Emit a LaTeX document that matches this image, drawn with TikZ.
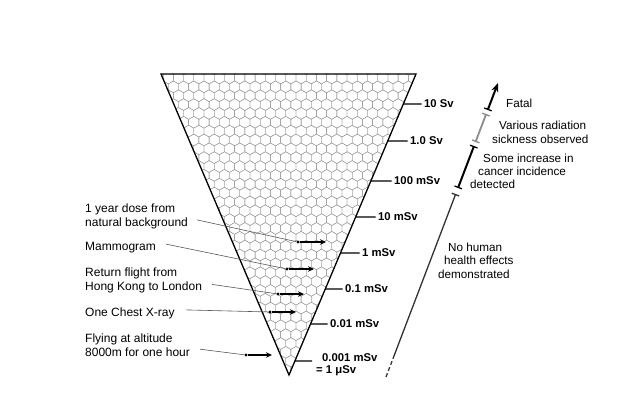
\documentclass[tikz,border=0pt]{standalone}
\usepackage{fontspec}
\setmainfont{Liberation Sans}
\usetikzlibrary{arrows.meta,calc}
\begin{document}
\begin{tikzpicture}[x=1pt,y=-1pt,
  lbl/.style={font=\fontsize{12}{14}\selectfont, inner sep=0pt, anchor=base west},
  dose/.style={font=\fontsize{11.3}{13}\selectfont\bfseries, inner sep=0pt, anchor=west},
  dosebase/.style={font=\fontsize{11.3}{13}\selectfont\bfseries, inner sep=0pt, anchor=base west},
  eff/.style={font=\fontsize{11.7}{14}\selectfont, inner sep=0pt, anchor=base west},
  hexline/.style={draw=black!40, line width=0.35pt},
  tickline/.style={line width=1.2pt, shorten >=2.5pt},
  leader/.style={draw=black!65, line width=0.6pt},
  doseptr/.style={line width=1.4pt, -{Stealth[length=6pt,width=5.5pt]}},
  dot/.style={circle, fill=black, inner sep=0pt, minimum size=3.2pt},
  blackseg/.style={line width=2pt, black},
  grayseg/.style={line width=1.8pt, black!45},
  nohuman/.style={line width=1.3pt, black!80},
  bartip/.style={Bar[width=8pt,line width=1.3pt]},
]
\fill[white] (0,0) rectangle (627,402);
\useasboundingbox (0,0) rectangle (627,402);

% triangle
\coordinate (TL) at (161,74);
\coordinate (TR) at (416,74);
\coordinate (AP) at (289,375);
\fill[white] (TL) -- (TR) -- (AP) -- cycle;
\begin{scope}
  \clip (TL) -- (TR) -- (AP) -- cycle;
  \foreach \r in {0,...,35}{
    \foreach \c in {0,...,26}{
      \pgfmathsetmacro\hx{158+\c*10.22+mod(\r,2)*5.11}
      \pgfmathsetmacro\hy{78+\r*8.85}
      \path[hexline] (\hx,\hy) +(30:5.9) -- +(90:5.9) -- +(150:5.9) -- +(210:5.9) -- +(270:5.9) -- +(330:5.9) -- cycle;
    }
  }
\end{scope}
\draw[line width=1.3pt, line join=miter] (TL) -- (TR) -- (AP) -- cycle;

% dose ticks
\coordinate (e1) at ($(TR)!{(104-74)/301}!(AP)$);
\coordinate (e2) at ($(TR)!{(141-74)/301}!(AP)$);
\coordinate (e3) at ($(TR)!{(181-74)/301}!(AP)$);
\coordinate (e4) at ($(TR)!{(217-74)/301}!(AP)$);
\coordinate (e5) at ($(TR)!{(253-74)/301}!(AP)$);
\coordinate (e6) at ($(TR)!{(289-74)/301}!(AP)$);
\coordinate (e7) at ($(TR)!{(324-74)/301}!(AP)$);
\coordinate (e8) at ($(TR)!{(361-74)/301}!(AP)$);

\node[dose] (l1) at (424,104) {10 Sv};
\node[dose] (l2) at (410,141) {1.0 Sv};
\node[dose] (l3) at (394,181) {100 mSv};
\node[dose] (l4) at (378,217) {10 mSv};
\node[dose] (l5) at (362,253) {1 mSv};
\node[dose] (l6) at (345,289) {0.1 mSv};
\node[dose] (l7) at (330,324) {0.01 mSv};
\node[dosebase] (l8a) at (322,361) {0.001 mSv};
\node[dosebase] (l8b) at (316,373) {= 1 μSv};
\coordinate (k8) at (312,361);

\draw[tickline] (e1) -- (l1.west);
\draw[tickline] (e2) -- (l2.west);
\draw[tickline] (e3) -- (l3.west);
\draw[tickline] (e4) -- (l4.west);
\draw[tickline] (e5) -- (l5.west);
\draw[tickline] (e6) -- (l6.west);
\draw[tickline] (e7) -- (l7.west);
\draw[line width=1.2pt] (e8) -- (k8);

% left labels
\node[lbl] (bg1) at (85,212) {1 year dose from};
\node[lbl] (bg2) at (85,226) {natural background};
\node[lbl] (mm) at (85,250) {Mammogram};
\node[lbl] (hk1) at (85,276.5) {Return flight from};
\node[lbl] (hk2) at (85,290.5) {Hong Kong to London};
\node[lbl] (cx) at (85,316) {One Chest X-ray};
\node[lbl] (fl1) at (85,342.5) {Flying at altitude};
\node[lbl] (fl2) at (85,356.5) {8000m for one hour};

\node[dot] (d1) at (298,242) {};
\node[dot] (d2) at (287,269) {};
\node[dot] (d3) at (278,294) {};
\node[dot] (d4) at (270,312) {};
\node[dot] (d5) at (246,355) {};
\coordinate (a1) at (326,242);
\coordinate (a2) at (314,269);
\coordinate (a3) at (304,294);
\coordinate (a4) at (296,312);
\coordinate (a5) at (272,355);

\draw[leader] ($(bg2.east)+(9,-3)$) -- (d1);
\draw[leader] ($(mm.east)+(10,-3)$) -- (d2);
\draw[leader] ($(hk2.east)+(10,-3)$) -- (d3);
\draw[leader] ($(cx.east)+(11,-3)$) -- (d4);
\draw[leader] ($(fl2.east)+(10,-3)$) -- (d5);

\draw[doseptr] (d1) -- (a1);
\draw[doseptr] (d2) -- (a2);
\draw[doseptr] (d3) -- (a3);
\draw[doseptr] (d4) -- (a4);
\draw[doseptr] (d5) -- (a5);

% effects scale
\coordinate (s0) at (386.0,377);
\coordinate (s1) at (393.6,357);
\coordinate (s2) at (455.7,194);
\coordinate (s3) at (458.0,188);
\coordinate (s4) at (474.0,146);
\coordinate (s5) at (475.5,142);
\coordinate (s6) at (486.2,114);
\coordinate (s7) at (487.7,110);
\coordinate (s8) at (498.0,83);

\draw[nohuman, dash pattern=on 4pt off 2.5pt] (s0) -- (s1);
\draw[nohuman, -{Bar[width=8pt,line width=1.3pt]}] (s1) -- (s2);
\draw[blackseg, {Bar[width=8pt,line width=1.3pt]}-{Bar[width=8pt,line width=1.3pt]}] (s3) -- (s4);
\draw[grayseg, {Bar[width=8pt,line width=1.3pt]}-{Bar[width=8pt,line width=1.3pt]}] (s5) -- (s6);
\draw[blackseg, {Bar[width=8pt,line width=1.3pt]}-{Stealth[length=9pt,width=7pt]}] (s7) -- (s8);

\node[eff] (f1) at (506,107) {Fatal};
\node[eff] (v1) at (499,129) {Various radiation};
\node[eff] (v2) at (492,143) {sickness observed};
\node[eff] (c1) at (483,162) {Some increase in};
\node[eff] (c2) at (478,175) {cancer incidence};
\node[eff] (c3) at (470,188) {detected};
\node[eff] (n1) at (448,251) {No human};
\node[eff] (n2) at (444,264.5) {health effects};
\node[eff] (n3) at (438,278) {demonstrated};
\end{tikzpicture}
\end{document}
